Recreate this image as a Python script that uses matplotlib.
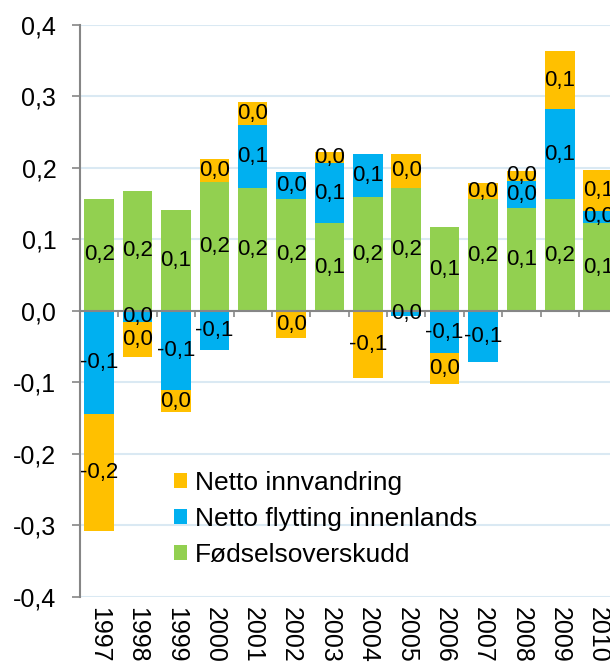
import numpy as np
import matplotlib
matplotlib.use("Agg")
import matplotlib.pyplot as plt
from matplotlib.ticker import FuncFormatter, FixedLocator

plt.rcParams['font.family'] = ['Liberation Sans', 'DejaVu Sans']

years = [str(y) for y in range(1997, 2011)]
fodselsoverskudd = [0.157, 0.168, 0.141, 0.181, 0.172, 0.157, 0.123,
                    0.159, 0.172, 0.117, 0.156, 0.144, 0.156, 0.123]
netto_flytting = [-0.144, -0.016, -0.111, -0.055, 0.088, 0.037, 0.084,
                  0.060, -0.007, -0.059, -0.071, 0.038, 0.127, 0.017]
netto_innvandring = [-0.164, -0.049, -0.030, 0.031, 0.032, -0.038, 0.015,
                     -0.094, 0.048, -0.043, 0.023, 0.014, 0.080, 0.057]

series = [
    ("Fødselsoverskudd", fodselsoverskudd, "#92D050"),
    ("Netto flytting innenlands", netto_flytting, "#00B0F0"),
    ("Netto innvandring", netto_innvandring, "#FFC000"),
]


def komma(v, pos=None):
    s = f"{v:.1f}"
    if s == "-0.0":
        s = "0.0"
    return s.replace(".", ",")


fig = plt.figure(figsize=(6.1, 6.7), dpi=100)
ax = fig.add_axes([0.1311, 0.109, 0.881, 0.8537])

x = np.arange(len(years))
pos_bottom = np.zeros(len(years))
neg_bottom = np.zeros(len(years))
handles = []
for name, vals, color in series:
    vals = np.array(vals)
    bottom = np.where(vals >= 0, pos_bottom, neg_bottom)
    bars = ax.bar(x, vals, 0.77, bottom=bottom, color=color, label=name,
                  zorder=2)
    handles.append(bars)
    for xi, b, v in zip(x, bottom, vals):
        ax.text(xi, b + v / 2, komma(v), ha="center", va="center",
                fontsize=16, color="black", zorder=4)
    pos_bottom = np.where(vals >= 0, pos_bottom + vals, pos_bottom)
    neg_bottom = np.where(vals < 0, neg_bottom + vals, neg_bottom)

ax.set_xlim(-0.5, 13.5)
ax.set_ylim(-0.4, 0.4)
ax.set_yticks(np.arange(-0.4, 0.41, 0.1))
ax.yaxis.set_major_formatter(FuncFormatter(komma))
ax.yaxis.grid(True, color="#DAE9F3", linewidth=1.5, zorder=0)
ax.set_axisbelow(True)

for side in ["top", "right"]:
    ax.spines[side].set_visible(False)
ax.spines["bottom"].set_position(("data", 0))
ax.spines["bottom"].set_color("#868686")
ax.spines["bottom"].set_linewidth(1.5)
ax.spines["bottom"].set_zorder(3)
ax.spines["left"].set_color("#868686")
ax.spines["left"].set_linewidth(1.5)

ax.tick_params(axis="y", direction="out", length=6, width=1.2,
               color="#868686", labelsize=18, pad=11)
ax.xaxis.set_major_locator(FixedLocator(np.arange(-0.5, 13.6, 1.0)))
ax.tick_params(axis="x", direction="out", length=4, width=1.2,
               color="#868686", labelbottom=False)

sec = ax.secondary_xaxis(0)
sec.set_xticks(x)
sec.set_xticklabels(years, rotation=270)
sec.tick_params(length=0, labelsize=18, pad=7)
sec.spines["bottom"].set_visible(False)

ax.legend(handles[::-1], [s[0] for s in series[::-1]],
          loc="upper left", bbox_to_anchor=(0.15, 0.243),
          frameon=False, fontsize=19, handlelength=0.5, handleheight=0.5,
          handletextpad=0.3, labelspacing=0.45, borderpad=0)

fig.savefig("out.png", dpi=100)
